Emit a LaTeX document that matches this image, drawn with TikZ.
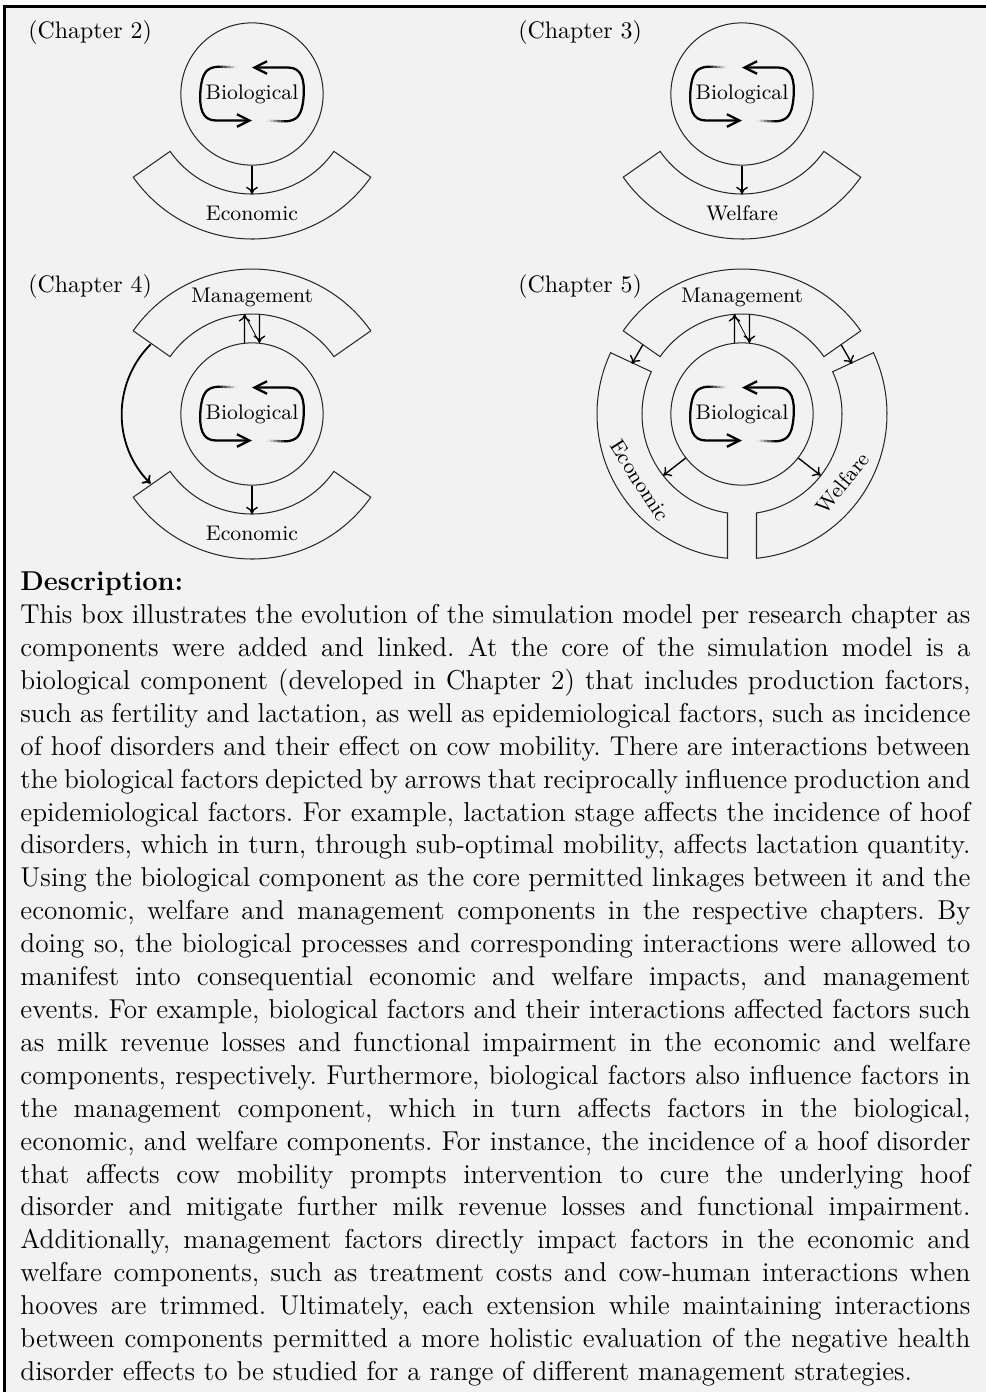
\documentclass[tikz,border=0pt]{standalone}
\usepackage{fontspec}
\usetikzlibrary{arrows.meta,calc}
\definecolor{bg}{HTML}{F2F2F2}
\newcommand\band[3]{\draw[outline] ($(#1)+(#2:100)$) arc[start angle=#2,end angle=#3,radius=100] -- ($(#1)+(#3:145)$) arc[start angle=#3,end angle=#2,radius=145] -- cycle;}
\newcommand\biocore[2]{%
  \node[biocirc] (#1) at (#2) {};
  \node[lab] (#1t) at (#2) {Biological};
  \begin{scope}[shift={(#2)}]
    \foreach \i/\g in {0/10,1/28,2/46,3/64,4/82}{%
      \draw[line width=1pt, black!\g] ({-15-3.4*\i},{26.6+0.15*\i}) -- ({-15-3.4*(\i+1)},{26.6+0.15*(\i+1)});
      \draw[line width=1pt, black!\g] ({15+3.4*\i},{-26.6-0.15*\i}) -- ({15+3.4*(\i+1)},{-26.6-0.15*(\i+1)});
    }
    \draw[looparr] (-32,27.35) .. controls (-46,27.5) and (-50,20) .. (-51.5,4) .. controls (-53,-14) and (-50,-26.5) .. (-36,-26.5) -- (0,-26.5);
    \draw[looparr] (32,-27.35) .. controls (46,-27.5) and (50,-20) .. (51.5,-4) .. controls (53,14) and (50,26.5) .. (36,26.5) -- (0,26.5);
  \end{scope}}
\begin{document}
\begin{tikzpicture}[x=0.44pt,y=0.44pt,
  outline/.style={draw=black!85, line width=0.45pt},
  arr/.style={draw=black, line width=0.6pt, -{To[length=3.2pt,width=5.2pt]}},
  looparr/.style={draw=black, line width=1pt, -{Straight Barb[length=5.5pt,width=5.5pt]}},
  lab/.style={font=\fontsize{9.3}{11}\selectfont, inner sep=0pt},
  chap/.style={font=\fontsize{10.5}{12}\selectfont, inner sep=0pt, anchor=west},
  biocirc/.style={circle, outline, minimum size=62.6pt, inner sep=0pt},
]
\useasboundingbox (0,0) rectangle (986,-1392);
\fill[white] (0,0) rectangle (986,-1392);
\fill[bg] (5,-7) rectangle (986,-1392);
\draw[line width=1pt] (4.5,-1392) -- (4.5,-6.5) -- (986,-6.5);

\coordinate (C2) at (252,-94);
\coordinate (C3) at (742,-94);
\coordinate (C4) at (252,-414);
\coordinate (C5) at (742,-414);

% ---------- Chapter 2
\node[chap] (ch2) at (28,-33) {(Chapter 2)};
\biocore{c2}{C2}
\band{C2}{215}{325}
\node[lab] (e2) at (252,-213) {Economic};
\coordinate (e2in) at ($(C2)+(270:100)$);
\draw[arr] (c2.south) -- (e2in);

% ---------- Chapter 3
\node[chap] (ch3) at (518,-33) {(Chapter 3)};
\biocore{c3}{C3}
\band{C3}{215}{325}
\node[lab] (w3) at (742,-213) {Welfare};
\coordinate (w3in) at ($(C3)+(270:100)$);
\draw[arr] (c3.south) -- (w3in);

% ---------- Chapter 4
\node[chap] (ch4) at (28,-287) {(Chapter 4)};
\biocore{c4}{C4}
\band{C4}{35}{145}
\band{C4}{215}{325}
\node[lab] (m4) at (252,-297) {Management};
\node[lab] (e4) at (252,-533) {Economic};
\coordinate (m4up) at ($(C4)+(-7.5,99.7)$);
\coordinate (m4dn) at ($(C4)+(7.5,99.7)$);
\draw[arr] (c4.96) -- (m4up);
\draw[arr] (m4dn) -- (c4.84);
\draw[line width=0.35pt] (m4up) -- (c4.84);
\coordinate (e4in) at ($(C4)+(270:100)$);
\draw[arr] (c4.south) -- (e4in);
\coordinate (m4L) at ($(C4)+(145.5:123)$);
\coordinate (e4L) at ($(C4)+(214.5:123)$);
\draw[arr, line width=0.8pt] (m4L) to[bend right=45] (e4L);

% ---------- Chapter 5
\node[chap] (ch5) at (518,-287) {(Chapter 5)};
\biocore{c5}{C5}
\band{C5}{35}{145}
\draw[outline] ($(C5)+(155:100)$) arc[start angle=155,end angle=261.66,radius=100] -- ($(C5)+(264.26:145)$) arc[start angle=264.26,end angle=155,radius=145] -- cycle;
\draw[outline] ($(C5)+(25:100)$) arc[start angle=25,end angle=-81.66,radius=100] -- ($(C5)+(-84.26:145)$) arc[start angle=-84.26,end angle=25,radius=145] -- cycle;
\node[lab] (m5) at (742,-297) {Management};
\node[lab, rotate=-57.5] (e5) at ($(C5)+(213:122)$) {Economic};
\node[lab, rotate=51] (w5) at ($(C5)+(-34.5:122)$) {Welfare};
\coordinate (m5up) at ($(C5)+(-7.5,99.7)$);
\coordinate (m5dn) at ($(C5)+(7.5,99.7)$);
\draw[arr] (c5.96) -- (m5up);
\draw[arr] (m5dn) -- (c5.84);
\draw[line width=0.35pt] (m5up) -- (c5.84);
\coordinate (m5L) at ($(C5)+(145:121)$);
\coordinate (e5T) at ($(C5)+(155.5:121)$);
\coordinate (m5R) at ($(C5)+(35:121)$);
\coordinate (w5T) at ($(C5)+(24.5:121)$);
\draw[arr] (m5L) -- (e5T);
\draw[arr] (m5R) -- (w5T);
\coordinate (e5in) at ($(C5)+(218:100)$);
\coordinate (w5in) at ($(C5)+(-38:100)$);
\draw[arr] (c5.218) -- (e5in);
\draw[arr] (c5.-38) -- (w5in);

% ---------- Description
\node[anchor=north west, text width=418pt, align=justify, inner sep=0pt,
      font=\fontsize{12}{14.48}\selectfont] (desc) at (20,-571.5) {%
\tolerance=9999 \hyphenpenalty=10000 \frenchspacing \noindent
\textbf{Description:}\\
This box illustrates the evolution of the simulation model per research chapter as\linebreak
components were added and linked. At the core of the simulation model is a\linebreak
biological component (developed in Chapter 2) that includes production factors,\linebreak
such as fertility and lactation, as well as epidemiological factors, such as incidence\linebreak
of hoof disorders and their effect on cow mobility. There are interactions between\linebreak
the biological factors depicted by arrows that reciprocally influence production and\linebreak
epidemiological factors. For example, lactation stage affects the incidence of hoof\linebreak
disorders, which in turn, through sub-optimal mobility, affects lactation quantity.\linebreak
Using the biological component as the core permitted linkages between it and the\linebreak
economic, welfare and management components in the respective chapters. By\linebreak
doing so, the biological processes and corresponding interactions were allowed to\linebreak
manifest into consequential economic and welfare impacts, and management\linebreak
events. For example, biological factors and their interactions affected factors such\linebreak
as milk revenue losses and functional impairment in the economic and welfare\linebreak
components, respectively. Furthermore, biological factors also influence factors in\linebreak
the management component, which in turn affects factors in the biological,\linebreak
economic, and welfare components. For instance, the incidence of a hoof disorder\linebreak
that affects cow mobility prompts intervention to cure the underlying hoof\linebreak
disorder and mitigate further milk revenue losses and functional impairment.\linebreak
Additionally, management factors directly impact factors in the economic and\linebreak
welfare components, such as treatment costs and cow-human interactions when\linebreak
hooves are trimmed. Ultimately, each extension while maintaining interactions\linebreak
between components permitted a more holistic evaluation of the negative health\linebreak
disorder effects to be studied for a range of different management strategies.};
\end{tikzpicture}
\end{document}
